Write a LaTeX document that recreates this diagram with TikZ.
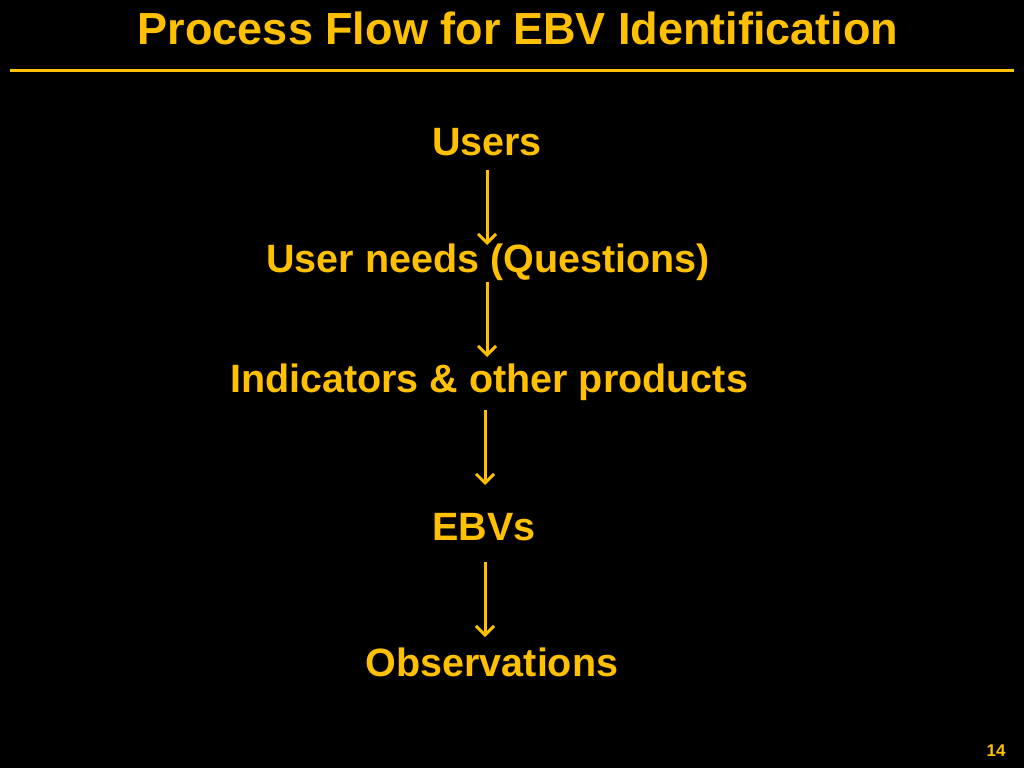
\documentclass[tikz,border=0pt]{standalone}
\usepackage{fontspec}
\setmainfont{Liberation Sans}
\usetikzlibrary{arrows.meta}
\definecolor{gold}{HTML}{FFC000}
\begin{document}
\begin{tikzpicture}[x=1pt,y=-1pt,
  lbl/.style={text=gold,font=\bfseries\fontsize{39.5}{44}\selectfont,inner sep=6pt},
  arr/.style={draw=gold,line width=3pt,-{Straight Barb[length=9pt,width=18pt,line width=3pt]}}]
\fill[black] (0,0) rectangle (1024,768);
\useasboundingbox (0,0) rectangle (1024,768);
\node[text=gold,font=\bfseries\fontsize{45}{50}\selectfont] (title) at (518,28) {Process Flow for EBV Identification};
\coordinate (l1) at (10,70); \coordinate (l2) at (1014,70);
\draw[gold,line width=3pt] (l1) -- (l2);
\node[lbl] (users) at (487,142) {Users};
\node[lbl] (needs) at (488,262) {User needs (Questions)};
\node[lbl] (ind) at (489,382) {Indicators \& other products};
\node[lbl] (ebv) at (484,527) {EBVs};
\node[lbl] (obs) at (492,662) {Observations};
\node[text=gold,font=\bfseries\fontsize{17}{19}\selectfont] (pg) at (996,751) {14};
\coordinate (a1) at (487,170); \coordinate (b1) at (487,245);
\coordinate (a2) at (487,282); \coordinate (b2) at (487,357);
\coordinate (a3) at (485,410); \coordinate (b3) at (485,485);
\coordinate (a4) at (485,562); \coordinate (b4) at (485,637);
\draw[arr] (a1) -- (b1);
\draw[arr] (a2) -- (b2);
\draw[arr] (a3) -- (b3);
\draw[arr] (a4) -- (b4);
\end{tikzpicture}
\end{document}
